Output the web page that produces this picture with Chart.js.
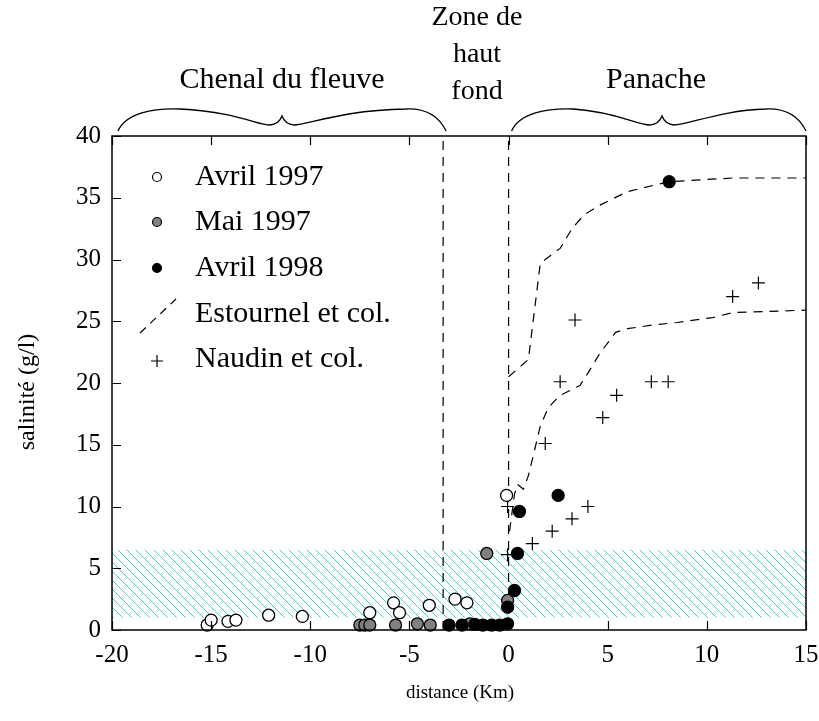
<!DOCTYPE html>
<html>
<head>
<meta charset="utf-8">
<script src="https://cdn.jsdelivr.net/npm/chart.js@4.4.1/dist/chart.umd.min.js"></script>
<style>
  html, body { margin: 0; padding: 0; background: #fff; }
  #wrap { width: 819px; height: 721px; }
</style>
</head>
<body>
<div id="wrap"><canvas id="chart" width="819" height="721"></canvas></div>
<script>
// tick values
const xTicks = [-20, -15, -10, -5, 0, 5, 10, 15];
const yTicks = [0, 5, 10, 15, 20, 25, 30, 35, 40];

// Avril 1997 (open circles)
const avril97X = [-15.2, -15.0, -14.15, -13.75, -12.1, -10.4, -7.0, -5.8, -5.5, -4.0, -2.7, -2.1, -0.1];
const avril97Y = [0.4, 0.8, 0.7, 0.8, 1.2, 1.1, 1.4, 2.2, 1.4, 2.0, 2.5, 2.2, 10.9];

// Mai 1997 (grey circles)
const mai97X = [-7.5, -7.25, -7.0, -5.7, -4.6, -3.95, -1.95, -1.1, -0.05];
const mai97Y = [0.4, 0.4, 0.4, 0.4, 0.5, 0.4, 0.5, 6.2, 2.4];

// Avril 1998 (black circles)
const avril98X = [-3.0, -2.35, -1.7, -1.3, -0.85, -0.45, -0.05, -0.05, 0.3, 0.45, 0.55, 2.5, 8.1];
const avril98Y = [0.4, 0.4, 0.45, 0.4, 0.4, 0.4, 0.5, 1.85, 3.2, 6.2, 9.6, 10.9, 36.3];

// Naudin et col. (crosses)
const naudinX = [-0.05, -0.05, 1.2, 2.2, 3.2, 4.0, 1.85, 2.6, 3.35, 4.75, 5.45, 7.2, 8.05, 11.3, 12.6];
const naudinY = [6.1, 10.0, 7.0, 8.0, 9.0, 10.0, 15.1, 20.1, 25.1, 17.2, 19.0, 20.1, 20.1, 27.0, 28.1];

// Estournel et col. (dashed model curves)
const estHautX = [0.0, 1.0, 1.6, 2.6, 3.2, 3.8, 4.6, 6.0, 8.1, 11.3, 15.0];
const estHautY = [20.5, 21.9, 29.7, 30.9, 32.5, 33.6, 34.4, 35.5, 36.3, 36.6, 36.6];
const estBasX = [0.05, 0.3, 0.45, 0.75, 1.0, 1.3, 1.6, 2.0, 2.6, 3.6, 4.0, 4.6, 5.4, 6.0, 7.3, 8.5, 10.3, 11.3, 15.0];
const estBasY = [8.0, 11.0, 11.8, 11.4, 12.5, 14.5, 16.5, 18.0, 19.0, 19.8, 20.8, 22.4, 24.1, 24.4, 24.7, 24.9, 25.3, 25.7, 25.9];

// zone limits
const zoneLimits = [-3.3, 0];
const bandX = [-20, 15];
const bandBas = 1.0;
const bandHaut = 6.5;

const legendLabels = ["Avril 1997", "Mai 1997", "Avril 1998", "Estournel et col.", "Naudin et col."];

function pts(xs, ys) { return xs.map((x, i) => ({x: x, y: ys[i]})); }

// hatch pattern for the shaded band
function hatchPattern() {
  const c = document.createElement("canvas");
  c.width = 9; c.height = 9;
  const g = c.getContext("2d");
  g.strokeStyle = "#3fd0d0";
  g.lineWidth = 1;
  g.beginPath();
  g.moveTo(-1, -1); g.lineTo(10, 10);
  g.moveTo(-1, 8); g.lineTo(1, 10);
  g.moveTo(8, -1); g.lineTo(10, 1);
  g.stroke();
  return g.createPattern(c, "repeat");
}

const serif = "'Liberation Serif', 'DejaVu Serif', serif";

function brace(ctx, x0, x1, xc, yb) {
  const yt = yb - 23;
  ctx.beginPath();
  ctx.moveTo(x0, yb);
  ctx.bezierCurveTo(x0 + 8, yb - 18, x0 + 35, yt, x0 + 62, yt + 1);
  ctx.bezierCurveTo(xc - 45, yt + 4, xc - 25, yb - 6, xc - 12, yb - 6);
  ctx.quadraticCurveTo(xc - 3, yb - 7, xc, yb - 15);
  ctx.quadraticCurveTo(xc + 3, yb - 7, xc + 12, yb - 6);
  ctx.bezierCurveTo(xc + 25, yb - 6, xc + 60, yt + 2, x1 - 40, yt + 1);
  ctx.bezierCurveTo(x1 - 18, yt, x1 - 6, yb - 12, x1, yb);
  ctx.stroke();
}

const decorPlugin = {
  id: "decor",
  afterDraw(chart) {
    const ctx = chart.ctx;
    const a = chart.chartArea;
    const xs = chart.scales.x, ys = chart.scales.y;
    ctx.save();
    ctx.strokeStyle = "#000";
    ctx.fillStyle = "#000";
    // frame
    ctx.lineWidth = 1.5;
    ctx.strokeRect(a.left, a.top, a.right - a.left, a.bottom - a.top);
    // inside ticks
    ctx.lineWidth = 1.2;
    ctx.beginPath();
    xTicks.forEach(v => {
      const px = Math.round(xs.getPixelForValue(v)) + 0.5;
      ctx.moveTo(px, a.bottom); ctx.lineTo(px, a.bottom - 9);
      ctx.moveTo(px, a.top); ctx.lineTo(px, a.top + 9);
    });
    yTicks.forEach(v => {
      const py = Math.round(ys.getPixelForValue(v)) + 0.5;
      ctx.moveTo(a.left, py); ctx.lineTo(a.left + 9, py);
    });
    ctx.stroke();

    // braces
    ctx.lineWidth = 1.3;
    brace(ctx, 118, xs.getPixelForValue(-3.3) + 3, 282, 131);
    brace(ctx, xs.getPixelForValue(0) + 3, a.right, 662, 131);

    // zone labels
    ctx.textAlign = "center";
    ctx.textBaseline = "middle";
    ctx.font = "30px " + serif;
    ctx.fillText("Chenal du fleuve", 282, 80);
    ctx.fillText("Panache", 656, 80);
    ctx.font = "28px " + serif;
    ctx.fillText("Zone de", 477, 18);
    ctx.fillText("haut", 477, 55);
    ctx.fillText("fond", 477, 92);

    // axis titles
    ctx.font = "19px " + serif;
    ctx.fillText("distance (Km)", 460, 693);
    ctx.save();
    ctx.translate(28, 392);
    ctx.rotate(-Math.PI / 2);
    ctx.font = "24px " + serif;
    ctx.fillText("salinité (g/l)", 0, 0);
    ctx.restore();

    // legend
    const rows = [177, 222, 268, 314, 359];
    const mx = 157;
    ctx.lineWidth = 1.2;
    ctx.beginPath(); ctx.arc(mx, rows[0], 4.5, 0, Math.PI * 2);
    ctx.fillStyle = "#fff"; ctx.fill(); ctx.stroke();
    ctx.beginPath(); ctx.arc(mx, rows[1], 4.5, 0, Math.PI * 2);
    ctx.fillStyle = "#808080"; ctx.fill(); ctx.stroke();
    ctx.beginPath(); ctx.arc(mx, rows[2], 4.5, 0, Math.PI * 2);
    ctx.fillStyle = "#000"; ctx.fill(); ctx.stroke();
    ctx.setLineDash([8, 6]);
    ctx.beginPath(); ctx.moveTo(140, rows[3] + 19); ctx.lineTo(176, rows[3] - 15); ctx.stroke();
    ctx.setLineDash([]);
    ctx.beginPath();
    ctx.moveTo(mx - 6, rows[4] + 2); ctx.lineTo(mx + 6, rows[4] + 2);
    ctx.moveTo(mx, rows[4] - 4); ctx.lineTo(mx, rows[4] + 8);
    ctx.stroke();
    ctx.fillStyle = "#000";
    ctx.textAlign = "left";
    ctx.font = "30px " + serif;
    legendLabels.forEach((t, i) => ctx.fillText(t, 195, rows[i]));
    ctx.restore();
  }
};

const dashed = [9, 7];

new Chart("chart", {
  type: "scatter",
  data: {
    datasets: [
      {
        label: "bande", type: "line", order: 10,
        data: pts(bandX, [bandHaut, bandHaut]),
        borderWidth: 0, pointRadius: 0,
        backgroundColor: hatchPattern(),
        fill: {value: bandBas}
      },
      {
        label: "limite1", type: "line", order: 9,
        data: pts([zoneLimits[0], zoneLimits[0]], [0, 40]),
        borderColor: "#000", borderWidth: 1.2, borderDash: dashed, pointRadius: 0
      },
      {
        label: "limite2", type: "line", order: 9,
        data: pts([zoneLimits[1], zoneLimits[1]], [0, 40]),
        borderColor: "#000", borderWidth: 1.2, borderDash: dashed, pointRadius: 0
      },
      {
        label: "Estournel haut", type: "line", order: 8,
        data: pts(estHautX, estHautY),
        borderColor: "#000", borderWidth: 1.2, borderDash: dashed, pointRadius: 0, tension: 0
      },
      {
        label: "Estournel bas", type: "line", order: 8,
        data: pts(estBasX, estBasY),
        borderColor: "#000", borderWidth: 1.2, borderDash: dashed, pointRadius: 0, tension: 0
      },
      {
        label: "Naudin et col.", order: 7,
        data: pts(naudinX, naudinY),
        pointStyle: "cross", pointRadius: 6.5, borderColor: "#000", borderWidth: 1.2
      },
      {
        label: "Avril 1997", order: 6,
        data: pts(avril97X, avril97Y),
        pointRadius: 6, backgroundColor: "#fff", borderColor: "#000", borderWidth: 1.3
      },
      {
        label: "Mai 1997", order: 5,
        data: pts(mai97X, mai97Y),
        pointRadius: 6, backgroundColor: "#808080", borderColor: "#000", borderWidth: 1.3
      },
      {
        label: "Avril 1998", order: 4,
        data: pts(avril98X, avril98Y),
        pointRadius: 6, backgroundColor: "#000", borderColor: "#000", borderWidth: 1.3
      }
    ]
  },
  options: {
    responsive: false,
    animation: false,
    clip: false,
    layout: { padding: { top: 136, right: 13, left: 0, bottom: 0 } },
    plugins: { legend: { display: false }, tooltip: { enabled: false } },
    scales: {
      x: {
        type: "linear", min: -20, max: 15,
        afterBuildTicks: s => { s.ticks = xTicks.map(v => ({value: v})); },
        afterFit: s => { s.height = 91; s.paddingLeft = 0; s.paddingRight = 0; },
        grid: { display: false, drawTicks: false },
        border: { display: false },
        ticks: { color: "#000", font: { family: serif, size: 25 }, padding: 10, maxRotation: 0 }
      },
      y: {
        type: "linear", min: 0, max: 40,
        afterBuildTicks: s => { s.ticks = yTicks.map(v => ({value: v})); },
        afterFit: s => { s.width = 112; s.paddingTop = 0; s.paddingBottom = 0; },
        grid: { display: false, drawTicks: false },
        border: { display: false },
        ticks: { color: "#000", font: { family: serif, size: 25 }, padding: 11 }
      }
    }
  },
  plugins: [decorPlugin]
});
</script>
</body>
</html>
